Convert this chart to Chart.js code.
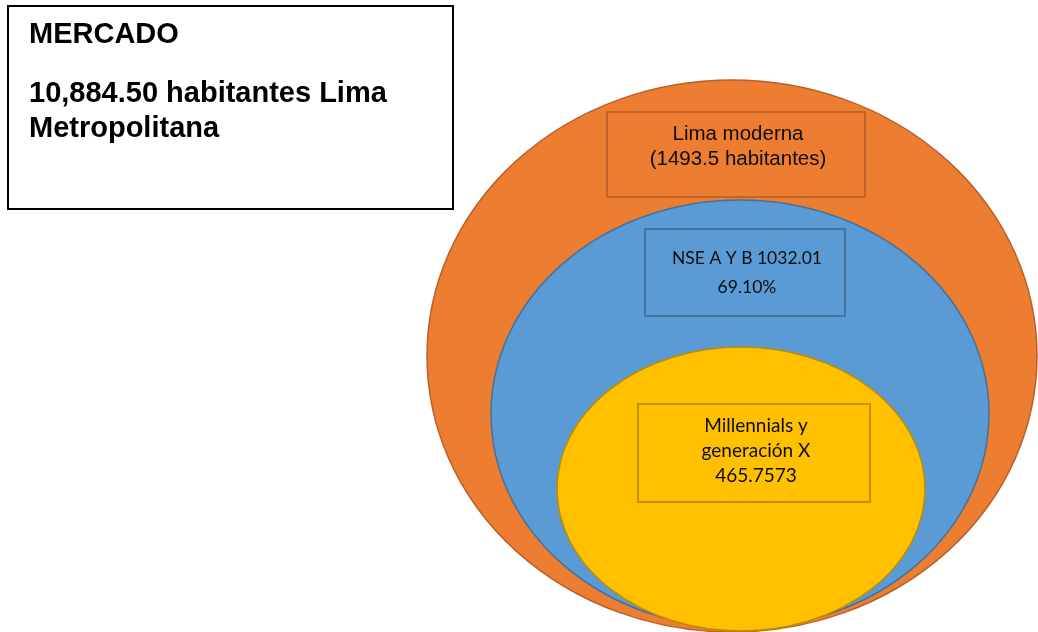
<!DOCTYPE html>
<html>
<head>
<meta charset="utf-8">
<script src="https://cdn.jsdelivr.net/npm/chart.js@4.4.0/dist/chart.umd.min.js"></script>
<style>
  html, body { margin: 0; padding: 0; background: #fff; }
  #wrap { width: 1038px; height: 632px; position: relative; }
</style>
</head>
<body>
<div id="wrap"><canvas id="mercado"></canvas></div>
<script>
// datos del mercado
var mercadoTotal = 10884.50;
var mercadoZona = 'Lima Metropolitana';
var segmentos = ['Lima moderna', 'NSE A Y B', 'Millennials y generación X'];
var habitantes = [1493.5, 1032.01, 465.7573];
var porcentaje = [null, 69.10, null];

// dibujo (unidades de los ejes: 0..1038 x 0..632)
var elipses = [
  { cx: 732, cy: 356, rx: 305, ry: 276 },
  { cx: 740, cy: 414, rx: 249, ry: 214 },
  { cx: 741, cy: 489, rx: 184, ry: 142 }
];
var cajas = [
  { x0: 607, y0: 112, x1: 865, y1: 197, ty: 134, lh: 25 },
  { x0: 645, y0: 229, x1: 845, y1: 316, ty: 258, lh: 29 },
  { x0: 638, y0: 404, x1: 870, y1: 502, ty: 426, lh: 25 }
];
var relleno = ['#ED7D31', '#5B9BD5', '#FFC000'];
var borde = ['#B8612A', '#41719C', '#BC8C00'];
var bordeCaja = ['#C0622A', '#44739D', '#BF9000'];
var fuentes = ['20.5px "Liberation Sans"', '17.5px Lato', '19px Lato'];

function textos(i) {
  if (i == 0) return [segmentos[0], '(' + habitantes[0] + ' habitantes)'];
  if (i == 1) return [segmentos[1] + ' ' + habitantes[1], porcentaje[1].toFixed(2) + '%'];
  return ['Millennials y', 'generación X', String(habitantes[2])];
}

var diagrama = {
  id: 'diagrama',
  beforeDatasetsDraw: function(chart) {
    var ctx = chart.ctx;
    var sx = chart.scales.x, sy = chart.scales.y;
    var px = function(v) { return sx.getPixelForValue(v); };
    var py = function(v) { return sy.getPixelForValue(v); };
    ctx.save();

    // elipses anidadas
    chart.data.datasets.forEach(function(ds, i) {
      var e = elipses[i];
      var cx = px(e.cx), cy = py(e.cy);
      var rx = Math.abs(px(e.cx + e.rx) - cx), ry = Math.abs(py(e.cy + e.ry) - cy);
      ctx.beginPath();
      ctx.ellipse(cx, cy, rx, ry, 0, 0, Math.PI * 2);
      ctx.fillStyle = relleno[i];
      ctx.fill();
      ctx.lineWidth = 1.5;
      ctx.strokeStyle = borde[i];
      ctx.stroke();
    });

    // cajas de texto
    chart.data.datasets.forEach(function(ds, i) {
      var c = cajas[i];
      var x0 = px(c.x0), x1 = px(c.x1), y0 = py(c.y0), y1 = py(c.y1);
      ctx.fillStyle = relleno[i];
      ctx.fillRect(x0, y0, x1 - x0, y1 - y0);
      ctx.lineWidth = 2;
      ctx.strokeStyle = bordeCaja[i];
      ctx.strokeRect(x0, y0, x1 - x0, y1 - y0);
      ctx.fillStyle = '#0d0d0d';
      ctx.font = fuentes[i];
      ctx.textAlign = 'center';
      ctx.textBaseline = 'middle';
      var mid = (x0 + x1) / 2;
      textos(i).forEach(function(t, k) {
        ctx.fillText(t, mid + 2, py(c.ty + k * c.lh));
      });
    });

    // recuadro MERCADO
    ctx.fillStyle = '#fff';
    ctx.fillRect(px(8), py(6), px(453) - px(8), py(209) - py(6));
    ctx.lineWidth = 2;
    ctx.strokeStyle = '#000';
    ctx.strokeRect(px(8), py(6), px(453) - px(8), py(209) - py(6));
    ctx.fillStyle = '#000';
    ctx.font = 'bold 29px "Liberation Sans"';
    ctx.textAlign = 'left';
    ctx.textBaseline = 'middle';
    var total = mercadoTotal.toLocaleString('en-US', { minimumFractionDigits: 2 });
    ctx.fillText('MERCADO', px(29), py(35));
    ctx.fillText(total + ' habitantes Lima', px(29), py(94));
    ctx.fillText(mercadoZona.split(' ')[1], px(29), py(129));
    ctx.restore();
  }
};

new Chart(document.getElementById('mercado'), {
  type: 'scatter',
  data: {
    datasets: segmentos.map(function(s, i) {
      return { label: s, data: [{ x: elipses[i].cx, y: elipses[i].cy }], pointRadius: 0 };
    })
  },
  options: {
    responsive: true,
    maintainAspectRatio: false,
    animation: false,
    layout: { padding: 0 },
    scales: {
      x: { type: 'linear', min: 0, max: 1038, display: false },
      y: { type: 'linear', min: 0, max: 632, reverse: true, display: false }
    },
    plugins: { legend: { display: false }, tooltip: { enabled: false } }
  },
  plugins: [diagrama]
});
</script>
</body>
</html>
